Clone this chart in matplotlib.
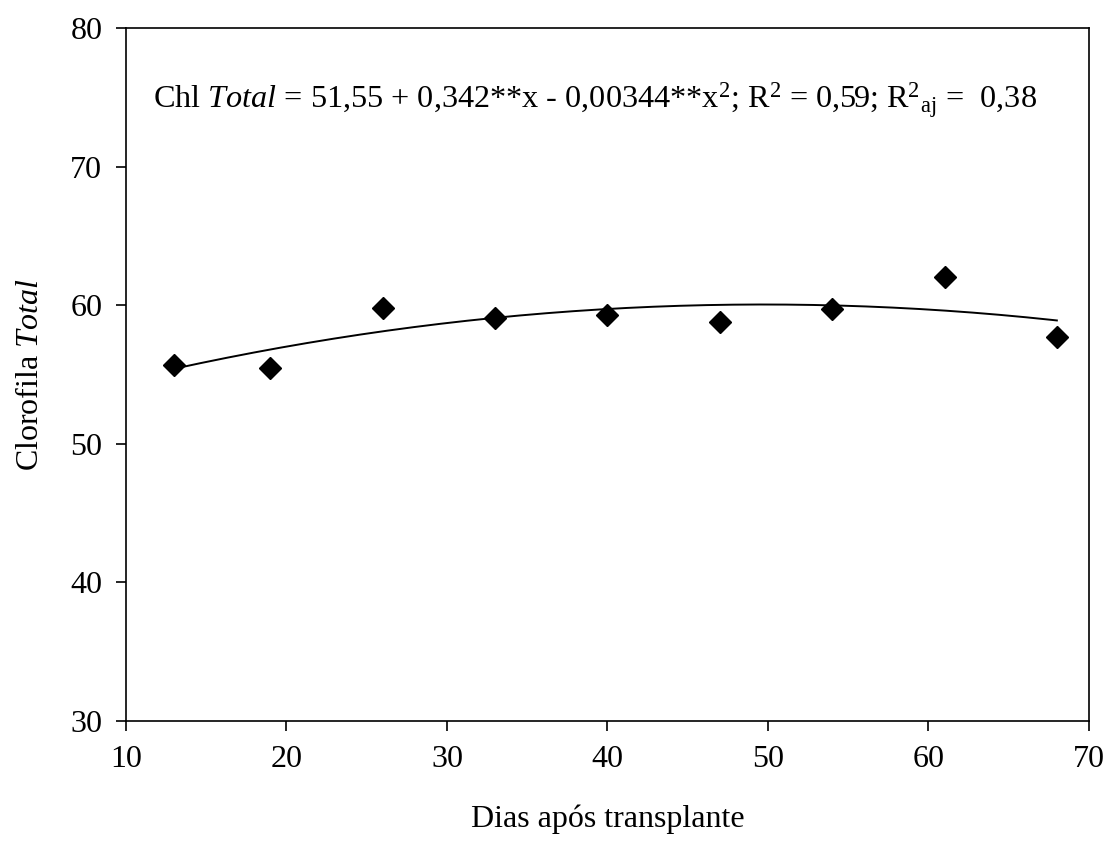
import numpy as np
import matplotlib
matplotlib.use("Agg")
import matplotlib.pyplot as plt

# dados
dias = [13, 19, 26, 33, 40, 47, 54, 61, 68]
clorofila = [55.7, 55.5, 59.8, 59.1, 59.3, 58.8, 59.7, 62.0, 57.7]

# coeficientes da regressao (da equacao no grafico)
b0 = 51.55
b1 = 0.342
b2 = -0.00344

plt.rcParams['font.family'] = ['Liberation Serif', 'DejaVu Serif']
plt.rcParams['mathtext.fontset'] = 'custom'
plt.rcParams['mathtext.rm'] = 'Liberation Serif'
plt.rcParams['mathtext.it'] = 'Liberation Serif:italic'

fig = plt.figure(figsize=(11.07, 8.43), dpi=100)
ax = fig.add_axes([0.1138, 0.1447, 0.8699, 0.8221])

xfit = np.linspace(min(dias), max(dias), 200)
yfit = b0 + b1 * xfit + b2 * xfit ** 2
ax.plot(xfit, yfit, color='black', lw=1.4)
ax.plot(dias, clorofila, 'D', color='black', markersize=11)

ax.set_xlim(10, 70)
ax.set_ylim(30, 80)
ax.set_xticks(range(10, 71, 10))
ax.set_yticks(range(30, 81, 10))
ax.tick_params(direction='out', length=7, width=1.2, labelsize=23, pad=10,
               top=False, right=False)
for s in ax.spines.values():
    s.set_linewidth(1.2)

ax.set_xlabel('Dias após transplante', fontsize=23, labelpad=22)
ax.set_ylabel(r'Clorofila $\mathit{Total}$', fontsize=23, labelpad=18)

ax.text(0.028, 0.8846,
        r'Chl $\mathit{Total}$ = 51,55 + 0,342**x - 0,00344**x$^2$; R$^2$ = 0,59; R$^{2}{}_{\mathrm{aj}}$ =  0,38',
        transform=ax.transAxes, fontsize=23.2, va='baseline')

plt.savefig('out.png', dpi=100)
